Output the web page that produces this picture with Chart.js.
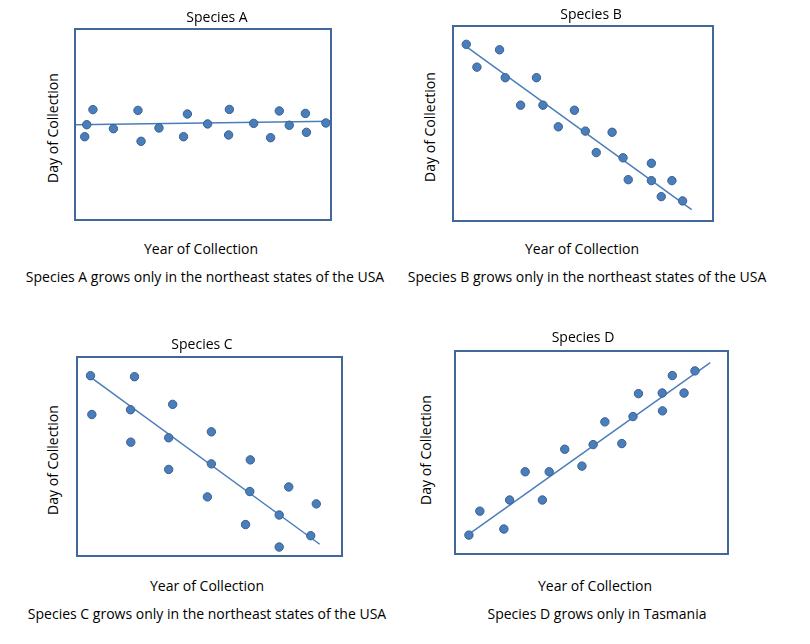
<!DOCTYPE html>
<html>
<head>
    <meta charset='UTF-8'>
    <script src="https://cdn.jsdelivr.net/npm/chart.js"></script>
    <style>
        body { margin: 0; background: #fff; width: 810px; height: 644px; position: relative; overflow: hidden; }
        .lbl { position: absolute; transform: translate(-50%, -50%); white-space: nowrap;
               font-family: 'Open Sans', sans-serif; font-size: 14px; color: #000; }
        .vert { transform: translate(-50%, -50%) rotate(-90deg); }
        canvas { position: absolute; }
    </style>
</head>
<title>Species collection</title>

<body>
    <script>
        // both axes on a 0-100 scale (no ticks shown)
        const aX = [3.8, 4.6, 7.0, 15.0, 24.6, 25.8, 32.8, 42.4, 43.9, 51.8, 60.0, 60.3, 69.8, 76.4, 79.8, 83.7, 90.0, 90.4, 98.0];
        const aY = [43.6, 49.9, 57.8, 47.8, 57.4, 41.2, 48.2, 43.6, 55.5, 50.3, 44.5, 57.9, 50.6, 43.1, 57.1, 49.6, 55.8, 45.9, 50.8];
        const aTrendX = [0, 100];
        const aTrendY = [49.9, 51.7];

        const bX = [5.1, 9.2, 17.9, 20.1, 26.0, 32.1, 34.6, 40.5, 46.7, 50.9, 55.1, 61.2, 65.4, 67.4, 76.3, 76.3, 80.1, 84.2, 88.3];
        const bY = [90.6, 78.9, 87.8, 73.5, 59.4, 73.5, 59.4, 48.3, 56.8, 46.1, 35.1, 45.5, 32.4, 21.2, 29.6, 20.7, 12.5, 20.7, 10.3];
        const bTrendX = [5.1, 91.8];
        const bTrendY = [89.4, 5.8];

        const cX = [5.1, 5.6, 20.2, 20.3, 21.7, 34.6, 34.6, 36.1, 49.2, 50.7, 50.7, 63.6, 65.2, 65.4, 76.3, 76.3, 79.9, 88.2, 90.3];
        const cY = [90.6, 71.1, 73.5, 57.2, 90.1, 59.4, 43.5, 76.2, 29.7, 46.3, 62.4, 15.8, 32.4, 48.3, 20.6, 4.5, 34.7, 10.2, 26.2];
        const cTrendX = [5.1, 91.6];
        const cTrendY = [89.9, 5.9];

        const dX = [5.1, 9.1, 17.9, 20.0, 25.7, 32.0, 34.5, 40.2, 46.5, 50.6, 54.9, 61.1, 65.2, 67.2, 75.9, 76.0, 79.6, 83.9, 87.9];
        const dY = [9.3, 21.1, 12.3, 26.6, 40.5, 26.6, 40.5, 51.6, 43.3, 53.9, 65.1, 54.4, 67.7, 79.0, 79.3, 70.5, 87.9, 79.3, 90.2];
        const dTrendX = [5.1, 93.5];
        const dTrendY = [9.8, 94.3];

        const titles = ['Species A', 'Species B', 'Species C', 'Species D'];
        const captions = [
            'Species A grows only in the northeast states of the USA',
            'Species B grows only in the northeast states of the USA',
            'Species C grows only in the northeast states of the USA',
            'Species D grows only in Tasmania'
        ];
        const xTitle = 'Year of Collection';
        const yTitle = 'Day of Collection';

        // plot box of each panel: left, top, width, height
        const panels = [
            { box: [75, 29, 256, 191], x: aX, y: aY, tx: aTrendX, ty: aTrendY,
              title: [217, 16], yt: [52, 128], xt: [201, 248], cap: [205, 276] },
            { box: [453, 26, 260, 195], x: bX, y: bY, tx: bTrendX, ty: bTrendY,
              title: [591, 13], yt: [429, 127], xt: [582, 248], cap: [587, 276] },
            { box: [77, 357, 265, 199], x: cX, y: cY, tx: cTrendX, ty: cTrendY,
              title: [202, 343], yt: [52, 460], xt: [207, 585], cap: [207, 613] },
            { box: [455, 351, 273, 203], x: dX, y: dY, tx: dTrendX, ty: dTrendY,
              title: [583, 336], yt: [425, 450], xt: [595, 585], cap: [597, 613] }
        ];

        const frame = {
            id: 'frame',
            afterDraw(chart) {
                const a = chart.chartArea;
                const ctx = chart.ctx;
                ctx.save();
                ctx.strokeStyle = '#41689b';
                ctx.lineWidth = 2;
                ctx.strokeRect(a.left, a.top, a.right - a.left, a.bottom - a.top);
                ctx.restore();
            }
        };

        function label(text, pos, vertical) {
            const d = document.createElement('div');
            d.className = vertical ? 'lbl vert' : 'lbl';
            d.textContent = text;
            d.style.left = pos[0] + 'px';
            d.style.top = pos[1] + 'px';
            document.body.appendChild(d);
        }

        const pad = 10;
        panels.forEach(function (p, i) {
            const cv = document.createElement('canvas');
            cv.width = p.box[2] + 2 * pad;
            cv.height = p.box[3] + 2 * pad;
            cv.style.left = (p.box[0] - pad) + 'px';
            cv.style.top = (p.box[1] - pad) + 'px';
            document.body.appendChild(cv);

            new Chart(cv, {
                type: 'scatter',
                data: {
                    datasets: [{
                        type: 'line',
                        data: p.tx.map(function (v, k) { return { x: v, y: p.ty[k] }; }),
                        borderColor: '#4a7ebb',
                        borderWidth: 1.5,
                        pointRadius: 0,
                        fill: false,
                        order: 2
                    }, {
                        data: p.x.map(function (v, k) { return { x: v, y: p.y[k] }; }),
                        backgroundColor: '#4a7ebb',
                        borderColor: '#385f91',
                        borderWidth: 1,
                        pointRadius: 4.2,
                        order: 1
                    }]
                },
                options: {
                    responsive: false,
                    animation: false,
                    layout: { padding: pad },
                    plugins: { legend: { display: false }, tooltip: { enabled: false } },
                    scales: {
                        x: { type: 'linear', min: 0, max: 100, display: false },
                        y: { type: 'linear', min: 0, max: 100, display: false }
                    }
                },
                plugins: [frame]
            });

            label(titles[i], p.title);
            label(yTitle, p.yt, true);
            label(xTitle, p.xt);
            label(captions[i], p.cap);
        });
    </script>
</body>

</html>
